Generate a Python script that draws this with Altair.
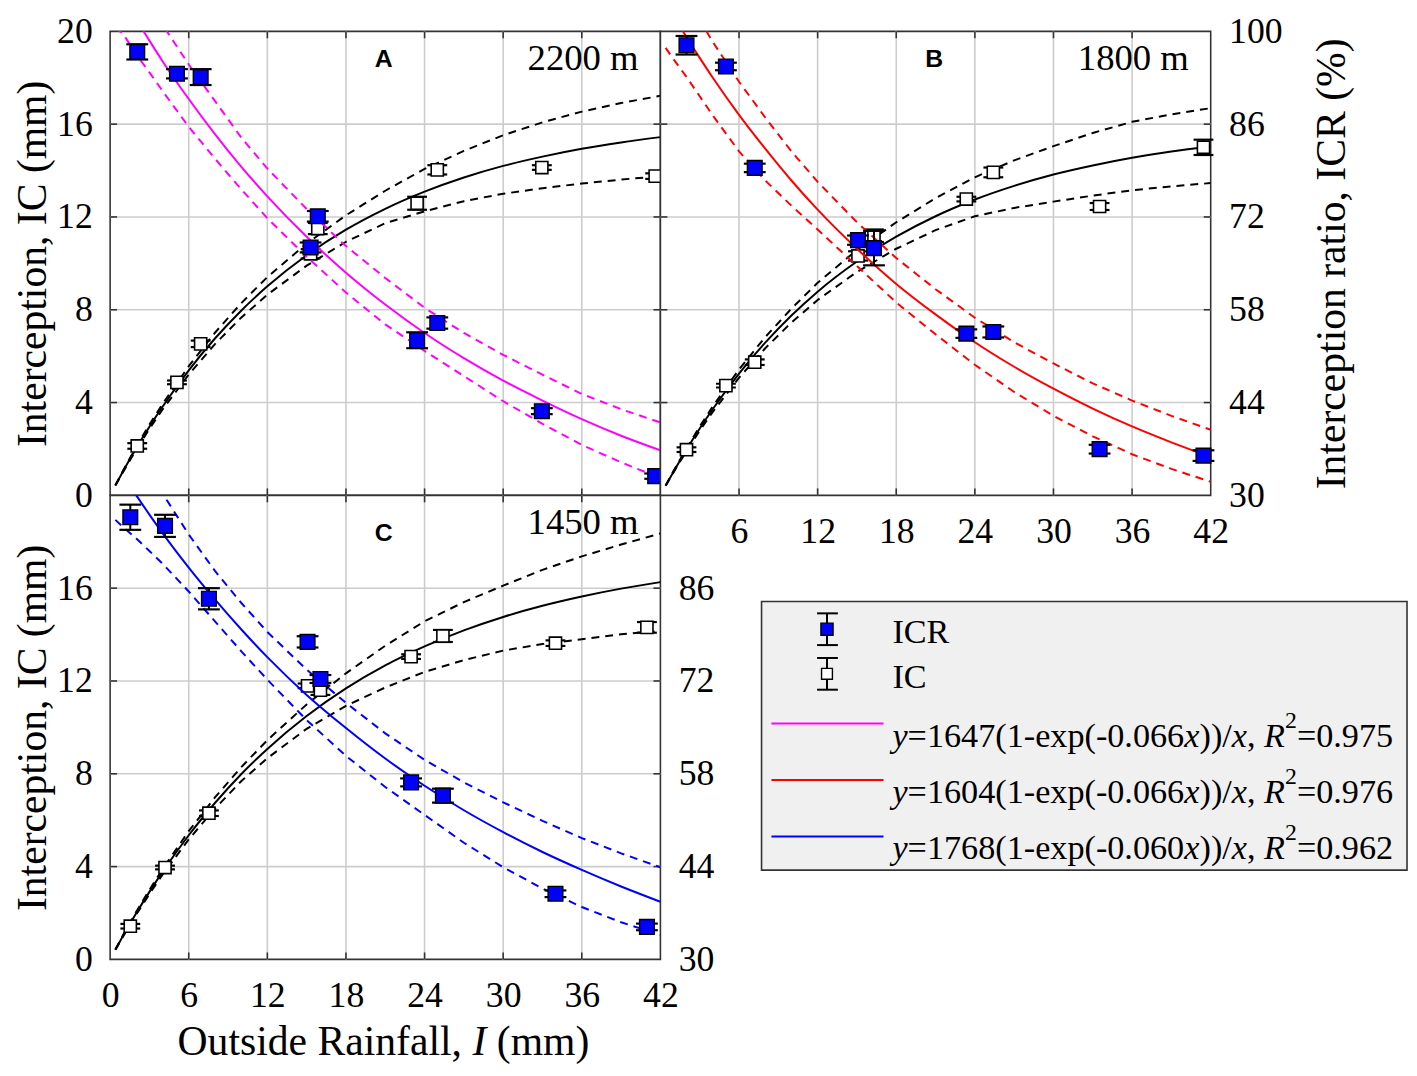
import altair as alt
import pandas as pd

# ---------------- data ----------------
XS = [0.4, 1, 2, 3, 4, 6, 8, 10, 12, 15, 18, 21, 24, 27, 30, 33, 36, 39, 42]

# Panel A (2200 m)
A_X = [2.07, 5.1, 6.91, 15.85, 15.3, 23.43, 24.97, 32.95, 41.6]
A_IC = [2.13, 4.87, 6.53, 11.5, 10.41, 12.59, 14.03, 14.13, 13.76]
A_IC_ERR = [0.12, 0.08, 0.14, 0.24, 0.2, 0.28, 0.2, 0.1, 0.12]
A_ICR = [96.9, 93.6, 93.1, 72.1, 67.4, 53.4, 56.0, 42.7, 32.9]
A_ICR_ERR = [1.15, 0.7, 1.2, 0.8, 0.75, 1.2, 0.85, 0.45, 0.4]
A_ICR_FIT = [107.3, 105.2, 101.8, 98.6, 95.5, 89.8, 84.5, 79.6, 75.1, 69.0, 63.6, 58.8, 54.5, 50.7, 47.3, 44.3, 41.5, 39.0, 36.8]
A_ICR_UP = [113.0, 111.5, 108.0, 104.5, 101.0, 95.0, 89.5, 84.0, 79.3, 73.2, 67.6, 62.8, 58.3, 54.5, 51.2, 48.2, 45.3, 43.0, 41.0]
A_ICR_LO = [100.5, 99.6, 96.5, 93.8, 91.0, 85.6, 80.8, 76.2, 71.8, 66.0, 60.6, 55.8, 51.8, 48.0, 44.2, 40.8, 37.6, 35.0, 32.6]
A_IC_FIT = [0.43, 1.05, 2.04, 2.96, 3.82, 5.39, 6.76, 7.96, 9.01, 10.35, 11.45, 12.35, 13.09, 13.70, 14.20, 14.60, 14.94, 15.21, 15.44]
A_IC_UP = [0.44, 1.08, 2.10, 3.05, 3.94, 5.57, 7.01, 8.28, 9.41, 10.85, 12.07, 13.13, 14.07, 14.85, 15.52, 16.08, 16.54, 16.91, 17.22]
A_IC_LO = [0.42, 1.02, 1.98, 2.87, 3.70, 5.21, 6.52, 7.66, 8.65, 9.90, 10.93, 11.73, 12.24, 12.68, 13.00, 13.24, 13.44, 13.61, 13.76]

# Panel B (1800 m)
B_X = [1.99, 5.0, 7.2, 15.08, 16.3, 23.35, 25.41, 33.52, 41.45]
B_IC = [1.97, 4.73, 5.74, 10.32, 11.19, 12.77, 13.92, 12.45, 15.0]
B_IC_ERR = [0.1, 0.08, 0.12, 0.2, 0.27, 0.1, 0.21, 0.15, 0.33]
B_ICR = [97.9, 94.7, 79.4, 68.5, 67.3, 54.4, 54.65, 36.97, 36.0]
B_ICR_ERR = [1.4, 0.57, 0.64, 0.7, 2.6, 0.64, 0.83, 0.66, 0.8]
B_ICR_FIT = [104.5, 102.4, 99.1, 96.0, 93.0, 87.4, 82.3, 77.5, 73.1, 67.2, 61.9, 57.3, 53.1, 49.4, 46.1, 43.1, 40.4, 38.0, 35.8]
B_ICR_UP = [111.0, 108.7, 105.1, 101.7, 98.4, 92.4, 87.0, 81.9, 77.3, 71.2, 65.8, 61.1, 56.8, 53.1, 49.9, 46.9, 44.3, 42.0, 39.9]
B_ICR_LO = [97.5, 95.8, 93.1, 90.2, 87.3, 81.9, 77.5, 73.7, 70.1, 64.6, 59.1, 54.3, 49.7, 45.6, 42.0, 38.9, 36.2, 34.0, 32.05]
B_IC_FIT = [0.42, 1.02, 1.98, 2.88, 3.72, 5.25, 6.58, 7.75, 8.78, 10.08, 11.15, 12.03, 12.75, 13.34, 13.83, 14.22, 14.55, 14.82, 15.04]
B_IC_UP = [0.43, 1.05, 2.04, 2.97, 3.84, 5.43, 6.82, 8.05, 9.16, 10.58, 11.77, 12.81, 13.71, 14.44, 15.05, 15.62, 16.10, 16.42, 16.69]
B_IC_LO = [0.41, 0.99, 1.92, 2.79, 3.60, 5.07, 6.34, 7.45, 8.42, 9.63, 10.63, 11.43, 12.03, 12.39, 12.66, 12.92, 13.15, 13.32, 13.46]

# Panel C (1450 m)
C_X = [1.54, 4.19, 7.54, 15.07, 16.05, 22.97, 25.4, 33.99, 40.97]
C_IC = [1.43, 3.96, 6.30, 11.79, 11.6, 13.05, 13.94, 13.63, 14.31]
C_IC_ERR = [0.1, 0.08, 0.12, 0.1, 0.2, 0.1, 0.26, 0.12, 0.23]
C_ICR = [96.7, 95.4, 84.4, 77.9, 72.3, 56.7, 54.7, 39.9, 34.9]
C_ICR_ERR = [1.9, 1.67, 1.6, 0.85, 0.6, 0.6, 1.05, 0.5, 0.5]
C_ICR_FIT = [104.8, 103.0, 100.0, 97.1, 94.3, 89.1, 84.3, 79.8, 75.6, 69.9, 64.9, 60.3, 56.2, 52.5, 49.2, 46.2, 43.5, 41.0, 38.7]
C_ICR_UP = [111.8, 109.8, 106.5, 103.3, 100.3, 94.1, 88.6, 83.8, 79.4, 73.7, 68.7, 64.1, 60.1, 56.7, 53.7, 50.9, 48.3, 46.0, 43.9]
C_ICR_LO = [96.3, 95.2, 93.5, 91.6, 89.7, 85.5, 81.0, 76.5, 72.2, 66.1, 60.7, 56.0, 51.8, 47.6, 43.9, 40.7, 37.9, 35.6, 33.7]
C_IC_FIT = [0.42, 1.03, 2.00, 2.91, 3.77, 5.35, 6.74, 7.98, 9.07, 10.49, 11.68, 12.67, 13.49, 14.18, 14.76, 15.24, 15.64, 15.98, 16.26]
C_IC_UP = [0.43, 1.06, 2.06, 3.00, 3.89, 5.53, 6.98, 8.28, 9.45, 10.99, 12.33, 13.52, 14.57, 15.40, 16.11, 16.79, 17.37, 17.88, 18.36]
C_IC_LO = [0.41, 1.00, 1.94, 2.82, 3.65, 5.17, 6.50, 7.68, 8.67, 9.94, 10.93, 11.72, 12.39, 12.90, 13.31, 13.59, 13.80, 14.01, 14.16]

GRID_X = [6, 12, 18, 24, 30, 36]
GRID_Y = [4, 8, 12, 16]
IC_TICKS_FULL = [0, 4, 8, 12, 16, 20]
IC_TICKS_C = [0, 4, 8, 12, 16]
ICR_TICKS_FULL = [30, 44, 58, 72, 86, 100]
ICR_TICKS_C = [30, 44, 58, 72, 86]
X_TICKS_FULL = [0, 6, 12, 18, 24, 30, 36, 42]
X_TICKS_B = [6, 12, 18, 24, 30, 36, 42]

SITES = ["2200 m", "1800 m", "1450 m"]
LETTERS = ["A", "B", "C"]
FIT_COLORS = ["#ff00ff", "#ff0000", "#0000ff"]
FIT_A = ["1647", "0.066", "0.975"]
FIT_B = ["1604", "0.066", "0.976"]
FIT_C = ["1768", "0.060", "0.962"]

# ---------------- layout / style ----------------
W, H = 555, 468
SERIF = "Liberation Serif"
DUMMY = pd.DataFrame({"d": [0]})
GX = pd.DataFrame({"g": GRID_X})
GY = pd.DataFrame({"g": GRID_Y})


def pts_df(x, ic, ice, icr, icre):
    return pd.DataFrame({
        "x": x, "ic": ic,
        "ic_lo": [a - b for a, b in zip(ic, ice)],
        "ic_hi": [a + b for a, b in zip(ic, ice)],
        "icr": icr,
        "icr_lo": [a - b for a, b in zip(icr, icre)],
        "icr_hi": [a + b for a, b in zip(icr, icre)],
    })


def fit_df(rf, ru, rl, cf, cu, cl):
    return pd.DataFrame({"x": XS, "icr_fit": rf, "icr_up": ru, "icr_lo": rl,
                         "ic_fit": cf, "ic_up": cu, "ic_lo": cl})


def ax_left(values):
    return alt.Axis(orient="left", values=values, title="Interception, IC (mm)",
                    grid=False, ticks=False, domain=False,
                    labelFont=SERIF, labelFontSize=36, labelColor="black", labelPadding=18,
                    titleFont=SERIF, titleFontSize=42, titleFontWeight="normal",
                    titleColor="black", titlePadding=2)


def ax_right(values, title):
    kw = dict(orient="right", values=values, grid=False, ticks=False, domain=False,
              labelFont=SERIF, labelFontSize=36, labelColor="black", labelPadding=18)
    if title:
        kw.update(title=title, titleFont=SERIF, titleFontSize=42, titleFontWeight="normal",
                  titleColor="black", titleAngle=270, titlePadding=72)
    else:
        kw.update(title=None)
    return alt.Axis(**kw)


def ax_bottom(values):
    return alt.Axis(orient="bottom", values=values, title=None, grid=False, ticks=False,
                    domain=False, labelFont=SERIF, labelFontSize=36, labelColor="black",
                    labelPadding=20, labelFlush=False, labelOverlap=False, labelBound=False)


def make_panel(pts, fit, color, xaxis, icaxis, icraxis, site, letter, letter_y, extra=None):
    def X(f):
        return alt.X(f, type="quantitative", scale=alt.Scale(domain=[0, 42], nice=False, zero=False), axis=xaxis)

    def YI(f):
        return alt.Y(f, type="quantitative", scale=alt.Scale(domain=[0, 20], nice=False, zero=False), axis=icaxis)

    def YR(f):
        return alt.Y(f, type="quantitative", scale=alt.Scale(domain=[30, 100], nice=False, zero=False), axis=icraxis)

    grid_c = "#cccccc"
    frame_c = "#333333"
    dash = [8, 6]

    ic_layers = [
        alt.Chart(GX).mark_rule(color=grid_c, strokeWidth=1.6).encode(x=X("g")),
        alt.Chart(GY).mark_rule(color=grid_c, strokeWidth=1.6).encode(y=YI("g")),
        alt.Chart(GY).mark_rule(color=frame_c, strokeWidth=1.6).encode(y=YI("g"), x=alt.value(0), x2=alt.value(7)),
        alt.Chart(GY).mark_rule(color=frame_c, strokeWidth=1.6).encode(y=YI("g"), x=alt.value(W - 7), x2=alt.value(W)),
        alt.Chart(GX).mark_rule(color=frame_c, strokeWidth=1.6).encode(x=X("g"), y=alt.value(0), y2=alt.value(7)),
        alt.Chart(GX).mark_rule(color=frame_c, strokeWidth=1.6).encode(x=X("g"), y=alt.value(H - 7), y2=alt.value(H)),
        alt.Chart(fit).mark_line(color="black", strokeWidth=2, strokeDash=dash, clip=True).encode(x=X("x"), y=YI("ic_up")),
        alt.Chart(fit).mark_line(color="black", strokeWidth=2, strokeDash=dash, clip=True).encode(x=X("x"), y=YI("ic_lo")),
        alt.Chart(fit).mark_line(color="black", strokeWidth=2, clip=True, interpolate="monotone").encode(x=X("x"), y=YI("ic_fit")),
        alt.Chart(pts).mark_rule(color="black", strokeWidth=2).encode(x=X("x"), y=YI("ic_lo"), y2=alt.Y2("ic_hi")),
        alt.Chart(pts).mark_tick(color="black", orient="horizontal", size=20, thickness=2.2, opacity=1).encode(x=X("x"), y=YI("ic_lo")),
        alt.Chart(pts).mark_tick(color="black", orient="horizontal", size=20, thickness=2.2, opacity=1).encode(x=X("x"), y=YI("ic_hi")),
        alt.Chart(pts).mark_square(size=150, fill="white", stroke="black", strokeWidth=1.6, opacity=1).encode(x=X("x"), y=YI("ic")),
    ]
    icr_layers = [
        alt.Chart(fit).mark_line(color=color, strokeWidth=2, strokeDash=dash, clip=True).encode(x=X("x"), y=YR("icr_up")),
        alt.Chart(fit).mark_line(color=color, strokeWidth=2, strokeDash=dash, clip=True).encode(x=X("x"), y=YR("icr_lo")),
        alt.Chart(fit).mark_line(color=color, strokeWidth=2, clip=True, interpolate="monotone").encode(x=X("x"), y=YR("icr_fit")),
        alt.Chart(pts).mark_rule(color="black", strokeWidth=2).encode(x=X("x"), y=YR("icr_lo"), y2=alt.Y2("icr_hi")),
        alt.Chart(pts).mark_tick(color="black", orient="horizontal", size=22, thickness=2.2, opacity=1).encode(x=X("x"), y=YR("icr_lo")),
        alt.Chart(pts).mark_tick(color="black", orient="horizontal", size=22, thickness=2.2, opacity=1).encode(x=X("x"), y=YR("icr_hi")),
        alt.Chart(pts).mark_square(size=220, fill="#0000ff", stroke="black", strokeWidth=1.4, opacity=1).encode(x=X("x"), y=YR("icr")),
    ]
    texts = [
        alt.Chart(DUMMY).mark_text(text=site, font=SERIF, fontSize=37, align="right",
                                   baseline="alphabetic", color="black").encode(x=alt.value(W - 22), y=alt.value(39)),
        alt.Chart(DUMMY).mark_text(text=letter, font="Liberation Sans", fontSize=25, fontWeight="bold",
                                   align="center", baseline="middle", color="black").encode(x=alt.value(276), y=alt.value(letter_y)),
    ]
    if extra:
        texts += extra
    return alt.layer(alt.layer(*ic_layers), alt.layer(*icr_layers), *texts).resolve_scale(y="independent").properties(width=W, height=H)


# Times-metric character widths (per 1000 em) used to place mixed-style text runs
TIMES_W = {"O": 722, "u": 500, "t": 278, "s": 389, "i": 278, "d": 500, "e": 444, " ": 250,
           "R": 667, "a": 444, "n": 500, "f": 333, "l": 278, ",": 250, "I": 333, "(": 333,
           "m": 778, ")": 333, "=": 564, "-": 333, "x": 500, "p": 500, ".": 250, "/": 278,
           "0": 500, "1": 500, "2": 500, "3": 500, "4": 500, "5": 500, "6": 500, "7": 500,
           "8": 500, "9": 500, "C": 667}
ITAL_W = {"y": 444, "x": 444, "R": 611, "I": 333}


def text_width(s, size, italic=False):
    tbl = ITAL_W if italic else TIMES_W
    return sum(tbl.get(ch, 500) for ch in s) * size / 1000.0


def segments(parts, x0, y, size, color="black"):
    out = []
    x = x0
    for s, style in parts:
        if style == "sup":
            fs, yy, ital = 24, y - 19, False
        else:
            fs, yy, ital = size, y, style == "it"
        lead = len(s) - len(s.lstrip(" "))
        x += lead * 250 * fs / 1000.0
        body = s.strip(" ")
        if body:
            out.append(alt.Chart(DUMMY).mark_text(text=body, font=SERIF, fontSize=fs,
                                                  fontStyle="italic" if ital else "normal",
                                                  align="left", baseline="alphabetic", color=color)
                       .encode(x=alt.value(x), y=alt.value(yy)))
        x += text_width(s.lstrip(" "), fs, ital)
    return out


xtitle = segments([("Outside Rainfall, ", "n"), ("I", "it"), (" (mm)", "n")], 68, H + 96, 42)

pA = pts_df(A_X, A_IC, A_IC_ERR, A_ICR, A_ICR_ERR)
pB = pts_df(B_X, B_IC, B_IC_ERR, B_ICR, B_ICR_ERR)
pC = pts_df(C_X, C_IC, C_IC_ERR, C_ICR, C_ICR_ERR)
fA = fit_df(A_ICR_FIT, A_ICR_UP, A_ICR_LO, A_IC_FIT, A_IC_UP, A_IC_LO)
fB = fit_df(B_ICR_FIT, B_ICR_UP, B_ICR_LO, B_IC_FIT, B_IC_UP, B_IC_LO)
fC = fit_df(C_ICR_FIT, C_ICR_UP, C_ICR_LO, C_IC_FIT, C_IC_UP, C_IC_LO)

panelA = make_panel(pA, fA, FIT_COLORS[0], None, ax_left(IC_TICKS_FULL), None, SITES[0], LETTERS[0], 28)
panelB = make_panel(pB, fB, FIT_COLORS[1], ax_bottom(X_TICKS_B), None,
                    ax_right(ICR_TICKS_FULL, "Interception ratio, ICR (%)"), SITES[1], LETTERS[1], 28)
panelC = make_panel(pC, fC, FIT_COLORS[2], ax_bottom(X_TICKS_FULL), ax_left(IC_TICKS_C),
                    ax_right(ICR_TICKS_C, None), SITES[2], LETTERS[2], 38, extra=xtitle)

# ---------------- legend panel ----------------
leg = [
    alt.Chart(DUMMY).mark_rect(fill="#f0f0f0", stroke="#333333", strokeWidth=1.6).encode(
        x=alt.value(102), x2=alt.value(753), y=alt.value(107), y2=alt.value(378)),
]
for yc, fill, sz in [(135, "#0000ff", 150), (180, "white", 120)]:
    leg += [
        alt.Chart(DUMMY).mark_rule(color="black", strokeWidth=2).encode(
            x=alt.value(168), y=alt.value(yc - 16), y2=alt.value(yc + 16)),
        alt.Chart(DUMMY).mark_rule(color="black", strokeWidth=2).encode(
            x=alt.value(158), x2=alt.value(179), y=alt.value(yc - 16)),
        alt.Chart(DUMMY).mark_rule(color="black", strokeWidth=2).encode(
            x=alt.value(158), x2=alt.value(179), y=alt.value(yc + 16)),
        alt.Chart(DUMMY).mark_square(size=sz, fill=fill, stroke="black", strokeWidth=1.4, opacity=1).encode(
            x=alt.value(168), y=alt.value(yc)),
    ]
leg += segments([("ICR", "n")], 234, 149, 34.5)
leg += segments([("IC", "n")], 234, 194, 34.5)
for fitp, col, yl, yb in [(FIT_A, FIT_COLORS[0], 230, 254), (FIT_B, FIT_COLORS[1], 287, 310),
                          (FIT_C, FIT_COLORS[2], 344, 367)]:
    leg.append(alt.Chart(DUMMY).mark_rule(color=col, strokeWidth=2).encode(
        x=alt.value(112), x2=alt.value(225), y=alt.value(yl)))
    leg += segments([("y", "it"), ("=" + fitp[0] + "(1-exp(-" + fitp[1], "n"), ("x", "it"),
                     ("))/", "n"), ("x", "it"), (", ", "n"), ("R", "it"), ("2", "sup"),
                     ("=" + fitp[2], "n")], 234, yb, 34.5)

legend_panel = alt.layer(*leg).properties(width=W, height=H, view=alt.ViewBackground(stroke="transparent", fill="transparent"))

chart = alt.concat(panelA, panelB, panelC, legend_panel, columns=2, spacing=0, bounds="flush").properties(
    padding={"left": 3, "top": 0, "right": 0, "bottom": 0}, background="white"
).configure_view(stroke="#333333", strokeWidth=1.6, fill="white")

chart.save("out.html", embed_options={"renderer": "svg", "actions": False})
